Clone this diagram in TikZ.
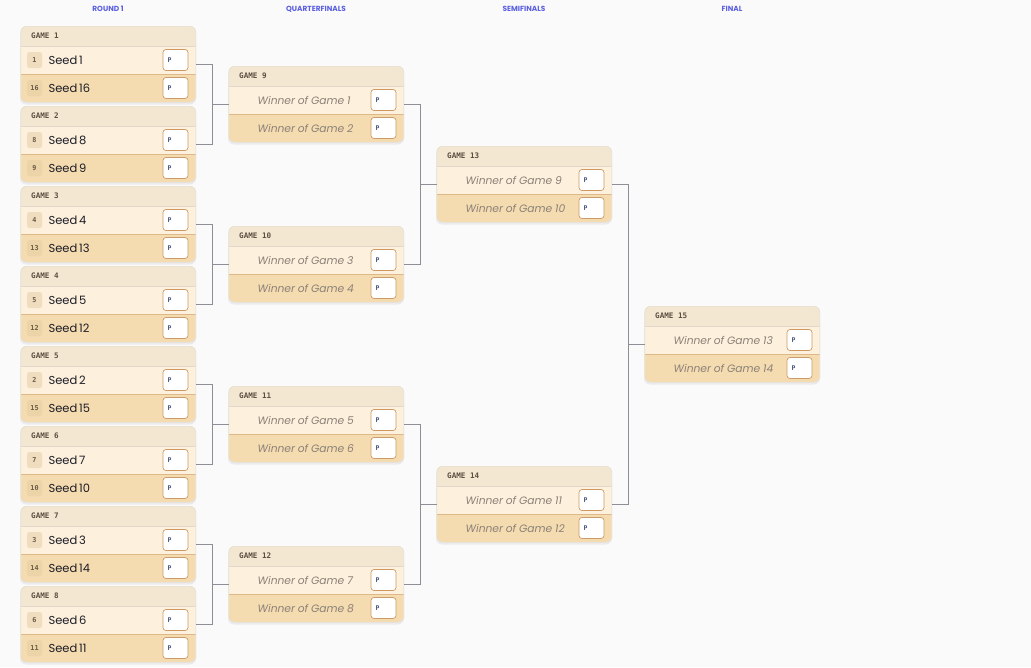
\documentclass[tikz,border=0pt]{standalone}
\usepackage{fontspec}
\setmainfont{Poppins}
\newfontfamily\monof{DejaVu Sans Mono}
\definecolor{bgc}{HTML}{FAFAFA}
\definecolor{hdrc}{HTML}{F3E7D2}
\definecolor{rowac}{HTML}{FDF0DC}
\definecolor{rowbc}{HTML}{F5DBB0}
\definecolor{lineac}{HTML}{E2D8CB}
\definecolor{linebc}{HTML}{DDB988}
\definecolor{cardborder}{HTML}{E6DED3}
\definecolor{badgeac}{HTML}{F0DCBF}
\definecolor{badgebc}{HTML}{EDD3A8}
\definecolor{badgetc}{HTML}{6B5A45}
\definecolor{hdrtc}{HTML}{5C4F40}
\definecolor{seedtc}{HTML}{1D1D28}
\definecolor{wintc}{HTML}{8A8178}
\definecolor{pbordc}{HTML}{CC9A66}
\definecolor{ptc}{HTML}{4A5A7C}
\definecolor{titlec}{HTML}{5B5FE0}
\definecolor{connc}{HTML}{8E8E98}
\newcommand\seedsp{\spaceskip=1.8pt\relax}
\newcommand\winsp{\spaceskip=2.8pt\relax}
\tikzset{
  cardbox/.style={draw=cardborder, line width=0.6pt, rounded corners=6pt, minimum width=175pt, minimum height=76pt, inner sep=0pt},
  hdrtext/.style={anchor=west, inner sep=0pt, text=hdrtc, font=\monof\bfseries\fontsize{7.6}{8}\selectfont},
  pbox/.style={draw=pbordc, line width=0.7pt, fill=white, rounded corners=3pt, minimum width=25pt, minimum height=21pt, inner sep=0pt},
  ptext/.style={anchor=west, inner sep=0pt, text=ptc, font=\monof\bfseries\fontsize{6.5}{7}\selectfont},
  badgea/.style={fill=badgeac, rounded corners=2.5pt, minimum width=15pt, minimum height=16pt, inner sep=0pt, text=badgetc, font=\monof\bfseries\fontsize{6.8}{7}\selectfont},
  badgeb/.style={badgea, fill=badgebc},
  seedtext/.style={anchor=west, inner sep=0pt, text=seedtc, font=\fontsize{11.5}{13}\selectfont},
  wintext/.style={anchor=west, inner sep=0pt, text=wintc, font=\itshape\fontsize{10.7}{13}\selectfont},
  title/.style={inner sep=0pt, text=titlec, font=\bfseries\fontsize{7.4}{8}\selectfont},
  conn/.style={draw=connc, line width=0.8pt},
}
\newcommand\gamecard[4]{%
  \fill[black, opacity=0.06, rounded corners=6pt] (#2-0.5,#3+1) rectangle ++(176,77.5);
  \begin{scope}
    \clip[rounded corners=6pt] (#2,#3) rectangle ++(175,76);
    \fill[hdrc] (#2,#3) rectangle ++(175,20);
    \fill[rowac] (#2,#3+20) rectangle ++(175,28);
    \fill[rowbc] (#2,#3+48) rectangle ++(175,28);
  \end{scope}
  \draw[lineac, line width=0.8pt] (#2,#3+20) -- ++(175,0);
  \draw[linebc, line width=0.8pt] (#2,#3+48) -- ++(175,0);
  \node[cardbox, anchor=north west] (#1) at (#2,#3) {};
  \node[hdrtext] (#1h) at (#2+10.5,#3+10) {GAME #4};
  \node[pbox] (#1pa) at (#2+155,#3+34) {};
  \node[ptext] (#1pat) at (#2+147,#3+34.3) {P};
  \node[pbox] (#1pb) at (#2+155,#3+62) {};
  \node[ptext] (#1pbt) at (#2+147,#3+62.3) {P};
}
\newcommand\seedcard[8]{% name x y label numA textA numB textB
  \gamecard{#1}{#2}{#3}{#4}
  \node[badgea] (#1ba) at (#2+14,#3+34) {#5};
  \node[seedtext] (#1ta) at (#2+27.8,#3+34.5) {\seedsp Seed #6};
  \node[badgeb] (#1bb) at (#2+14,#3+62) {#7};
  \node[seedtext] (#1tb) at (#2+27.8,#3+62.5) {\seedsp Seed #8};
}
\newcommand\wincard[6]{% name x y label gameA gameB
  \gamecard{#1}{#2}{#3}{#4}
  \node[wintext] (#1ta) at (#2+29,#3+34.5) {\winsp Winner of Game #5};
  \node[wintext] (#1tb) at (#2+29,#3+62.5) {\winsp Winner of Game #6};
}
\begin{document}
\begin{tikzpicture}[x=1pt,y=-1pt]
\useasboundingbox (0,0) rectangle (1031,667);
\fill[bgc] (0,0) rectangle (1031,667);
\node[title] (t1) at (108,9) {ROUND 1};
\node[title] (t2) at (316,9) {QUARTERFINALS};
\node[title] (t3) at (524,9) {SEMIFINALS};
\node[title] (t4) at (732,9) {FINAL};
% Round 1
\seedcard{g1}{20.5}{26}{1}{1}{1}{16}{16}
\seedcard{g2}{20.5}{106}{2}{8}{8}{9}{9}
\seedcard{g3}{20.5}{186}{3}{4}{4}{13}{13}
\seedcard{g4}{20.5}{266}{4}{5}{5}{12}{12}
\seedcard{g5}{20.5}{346}{5}{2}{2}{15}{15}
\seedcard{g6}{20.5}{426}{6}{7}{7}{10}{10}
\seedcard{g7}{20.5}{506}{7}{3}{3}{14}{14}
\seedcard{g8}{20.5}{586}{8}{6}{6}{11}{11}
% Quarterfinals
\wincard{g9}{228.5}{66}{9}{1}{2}
\wincard{g10}{228.5}{226}{10}{3}{4}
\wincard{g11}{228.5}{386}{11}{5}{6}
\wincard{g12}{228.5}{546}{12}{7}{8}
% Semifinals
\wincard{g13}{436.5}{146}{13}{9}{10}
\wincard{g14}{436.5}{466}{14}{11}{12}
% Final
\wincard{g15}{644.5}{306}{15}{13}{14}
% connectors
\draw[conn] (g1.east) -- ++(16,0) coordinate (j1) |- (g2.east);
\draw[conn] (g9.west) -- (j1 |- g9.west);
\draw[conn] (g3.east) -- ++(16,0) coordinate (j2) |- (g4.east);
\draw[conn] (g10.west) -- (j2 |- g10.west);
\draw[conn] (g5.east) -- ++(16,0) coordinate (j3) |- (g6.east);
\draw[conn] (g11.west) -- (j3 |- g11.west);
\draw[conn] (g7.east) -- ++(16,0) coordinate (j4) |- (g8.east);
\draw[conn] (g12.west) -- (j4 |- g12.west);
\draw[conn] (g9.east) -- ++(16,0) coordinate (j5) |- (g10.east);
\draw[conn] (g13.west) -- (j5 |- g13.west);
\draw[conn] (g11.east) -- ++(16,0) coordinate (j6) |- (g12.east);
\draw[conn] (g14.west) -- (j6 |- g14.west);
\draw[conn] (g13.east) -- ++(16,0) coordinate (j7) |- (g14.east);
\draw[conn] (g15.west) -- (j7 |- g15.west);
\end{tikzpicture}
\end{document}
